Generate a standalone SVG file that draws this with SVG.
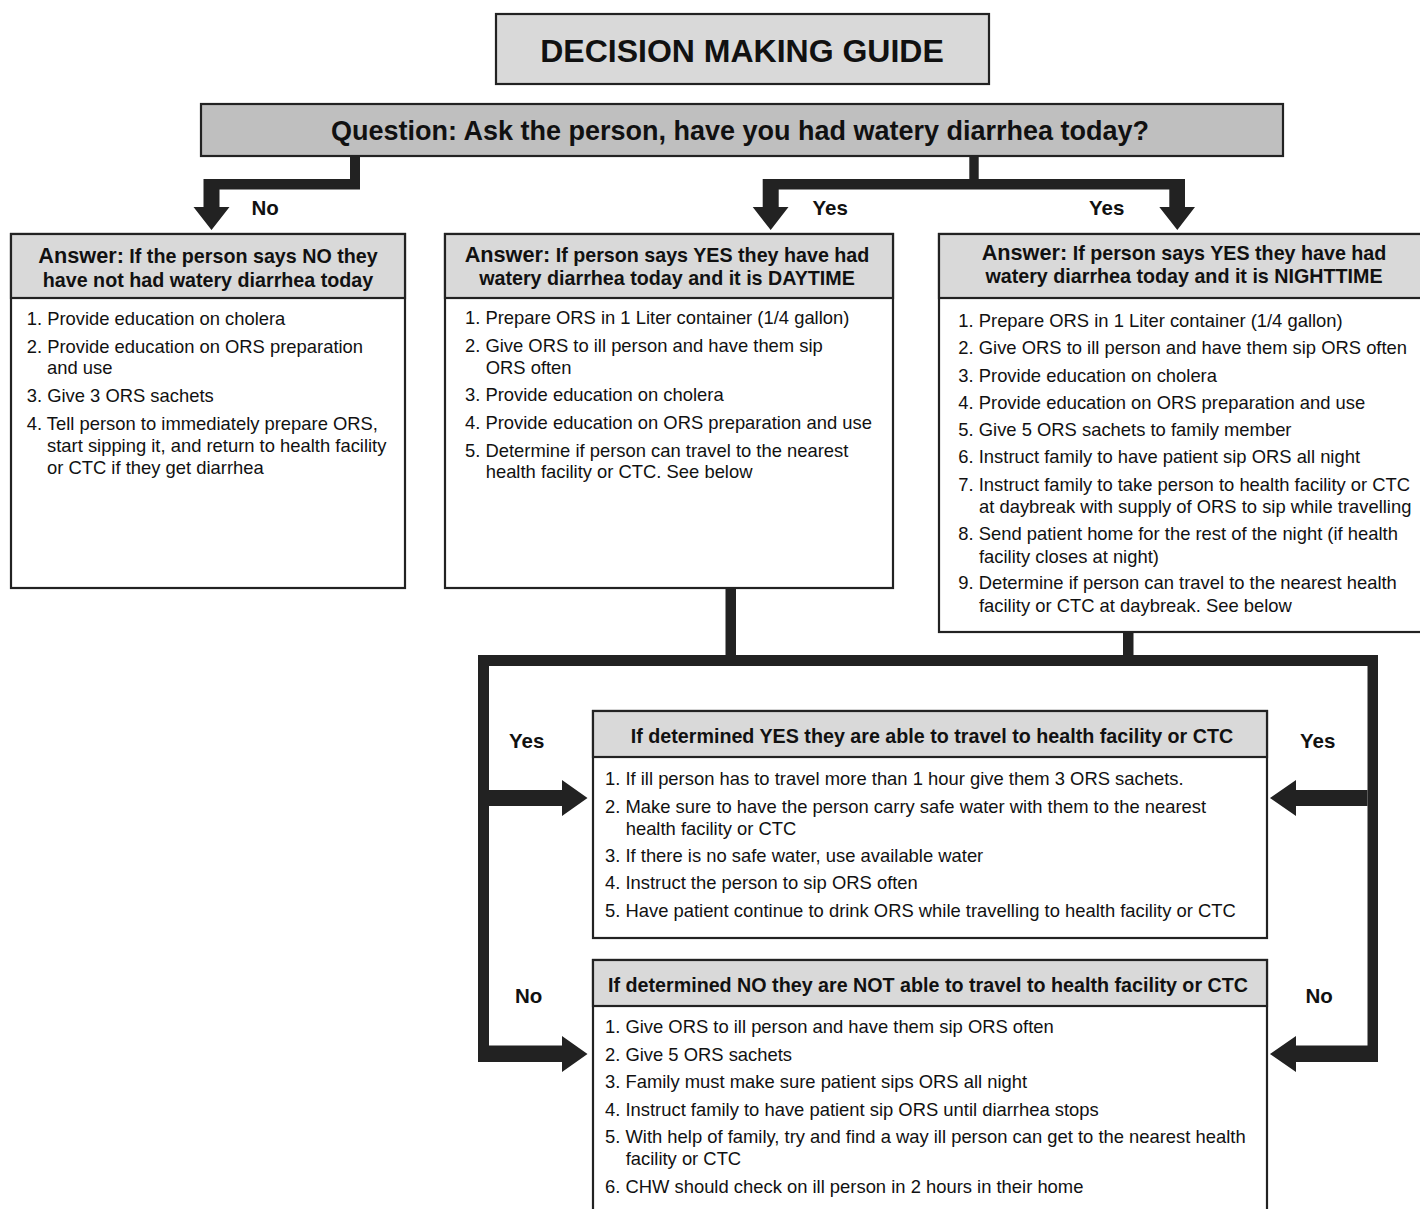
<svg xmlns="http://www.w3.org/2000/svg" width="1420" height="1209" viewBox="0 0 1420 1209">
<style>
text{font-family:"Liberation Sans",Arial,Helvetica,sans-serif;fill:#111}
.box{fill:#fff;stroke:#222;stroke-width:2.2}
.hdr{fill:#d9d9d9;stroke:#222;stroke-width:2.2}
.title{font-size:32px;font-weight:bold;text-anchor:middle}
.q{font-size:27px;font-weight:bold;text-anchor:middle}
.h{font-size:19.7px;font-weight:bold;text-anchor:middle}
.ans{font-size:21.7px}
.b{font-size:18.4px}
.lbl{font-size:20.5px;font-weight:bold}
.con{fill:#222}
</style>

<g id="title">
<rect x="496" y="14" width="493" height="70" fill="#d9d9d9" stroke="#222" stroke-width="2.2"/>
<text class="title" x="742" y="62">DECISION MAKING GUIDE</text>
</g>

<g id="question">
<rect x="201" y="104" width="1082" height="52" fill="#bfbfbf" stroke="#222" stroke-width="2.2"/>
<text class="q" x="740" y="139.5">Question: Ask the person, have you had watery diarrhea today?</text>
</g>

<g id="connectors">
<!-- No branch -->
<path class="con" d="M350,156 H360 V189.5 H219.5 V207 H229.5 L211.5,230 L193.5,207 H203.5 V179 H350 Z"/>
<!-- Yes branches -->
<path class="con" d="M969.3,156 H978.7 V179 H1185 V207 H1195 L1177.3,230 L1159.3,207 H1169.3 V189.5 H778.7 V207 H788.5 L770.7,230 L752.7,207 H762.7 V179 H969.3 Z"/>
<!-- stems from day / night boxes -->
<rect class="con" x="725.5" y="588" width="10.5" height="72"/>
<rect class="con" x="1123" y="632" width="10.5" height="28"/>
<!-- loop frame -->
<rect class="con" x="478" y="655" width="900" height="11"/>
<path class="con" d="M478,655 H489 V1045.5 H562 V1036 L587.5,1054 L562,1072 V1062 H478 Z"/>
<path class="con" d="M1367.5,655 H1378 V1062 H1296 V1072 L1270,1054 L1296,1036 V1045.5 H1367.5 Z"/>
<path class="con" d="M489,790 H562 V780 L587.5,798 L562,816 V806 H489 Z"/>
<path class="con" d="M1367.5,790 H1296 V780 L1270,798 L1296,816 V806 H1367.5 Z"/>
</g>

<g id="labels">
<text class="lbl" x="251.5" y="215">No</text>
<text class="lbl" x="812.5" y="215">Yes</text>
<text class="lbl" x="1089" y="215">Yes</text>
<text class="lbl" x="509" y="748">Yes</text>
<text class="lbl" x="1300" y="748">Yes</text>
<text class="lbl" x="515" y="1003">No</text>
<text class="lbl" x="1305.5" y="1003">No</text>
</g>

<g id="answer-no">
<rect class="box" x="11" y="234" width="394" height="354"/>
<rect class="hdr" x="11" y="234" width="394" height="64"/>
<text class="h" x="208" y="263.3"><tspan class="ans">Answer:</tspan> If the person says NO they</text>
<text class="h" x="208" y="286.7">have not had watery diarrhea today</text>
<text class="b" x="26.7" y="325">1. Provide education on cholera</text>
<text class="b" x="26.7" y="352.7">2. Provide education on ORS preparation</text>
<text class="b" x="47" y="374">and use</text>
<text class="b" x="26.7" y="401.7">3. Give 3 ORS sachets</text>
<text class="b" x="26.7" y="430">4. Tell person to immediately prepare ORS,</text>
<text class="b" x="47" y="451.7">start sipping it, and return to health facility</text>
<text class="b" x="47" y="474">or CTC if they get diarrhea</text>
</g>

<g id="answer-day">
<rect class="box" x="445" y="234" width="448" height="354"/>
<rect class="hdr" x="445" y="234" width="448" height="64"/>
<text class="h" x="667" y="261.7"><tspan class="ans">Answer:</tspan> If person says YES they have had</text>
<text class="h" x="667" y="285">watery diarrhea today and it is DAYTIME</text>
<text class="b" x="465" y="324">1. Prepare ORS in 1 Liter container (1/4 gallon)</text>
<text class="b" x="465" y="351.7">2. Give ORS to ill person and have them sip</text>
<text class="b" x="485.7" y="374">ORS often</text>
<text class="b" x="465" y="400.7">3. Provide education on cholera</text>
<text class="b" x="465" y="429">4. Provide education on ORS preparation and use</text>
<text class="b" x="465" y="456.7">5. Determine if person can travel to the nearest</text>
<text class="b" x="485.7" y="478.3">health facility or CTC. See below</text>
</g>

<g id="answer-night">
<rect class="box" x="939" y="234" width="491" height="398"/>
<rect class="hdr" x="939" y="234" width="491" height="64"/>
<text class="h" x="1184" y="260"><tspan class="ans">Answer:</tspan> If person says YES they have had</text>
<text class="h" x="1184" y="283.3">watery diarrhea today and it is NIGHTTIME</text>
<text class="b" x="958.3" y="326.7">1. Prepare ORS in 1 Liter container (1/4 gallon)</text>
<text class="b" x="958.3" y="354">2. Give ORS to ill person and have them sip ORS often</text>
<text class="b" x="958.3" y="381.7">3. Provide education on cholera</text>
<text class="b" x="958.3" y="409">4. Provide education on ORS preparation and use</text>
<text class="b" x="958.3" y="436">5. Give 5 ORS sachets to family member</text>
<text class="b" x="958.3" y="463.3">6. Instruct family to have patient sip ORS all night</text>
<text class="b" x="958.3" y="490.7">7. Instruct family to take person to health facility or CTC</text>
<text class="b" x="979" y="512.7">at daybreak with supply of ORS to sip while travelling</text>
<text class="b" x="958.3" y="540">8. Send patient home for the rest of the night (if health</text>
<text class="b" x="979" y="562.7">facility closes at night)</text>
<text class="b" x="958.3" y="589.3">9. Determine if person can travel to the nearest health</text>
<text class="b" x="979" y="611.7">facility or CTC at daybreak. See below</text>
</g>

<g id="travel-yes">
<rect class="box" x="593" y="711" width="674" height="227"/>
<rect class="hdr" x="593" y="711" width="674" height="46"/>
<text class="h" x="932" y="743">If determined YES they are able to travel to health facility or CTC</text>
<text class="b" x="605" y="785">1. If ill person has to travel more than 1 hour give them 3 ORS sachets.</text>
<text class="b" x="605" y="812.7">2. Make sure to have the person carry safe water with them to the nearest</text>
<text class="b" x="625.7" y="835">health facility or CTC</text>
<text class="b" x="605" y="861.7">3. If there is no safe water, use available water</text>
<text class="b" x="605" y="889.3">4. Instruct the person to sip ORS often</text>
<text class="b" x="605" y="916.7">5. Have patient continue to drink ORS while travelling to health facility or CTC</text>
</g>

<g id="travel-no">
<rect class="box" x="593" y="960" width="674" height="262"/>
<rect class="hdr" x="593" y="960" width="674" height="46"/>
<text class="h" x="928" y="991.7">If determined NO they are NOT able to travel to health facility or CTC</text>
<text class="b" x="605" y="1033.3">1. Give ORS to ill person and have them sip ORS often</text>
<text class="b" x="605" y="1060.7">2. Give 5 ORS sachets</text>
<text class="b" x="605" y="1088.3">3. Family must make sure patient sips ORS all night</text>
<text class="b" x="605" y="1115.7">4. Instruct family to have patient sip ORS until diarrhea stops</text>
<text class="b" x="605" y="1142.7">5. With help of family, try and find a way ill person can get to the nearest health</text>
<text class="b" x="625.7" y="1165.3">facility or CTC</text>
<text class="b" x="605" y="1192.7">6. CHW should check on ill person in 2 hours in their home</text>
</g>
</svg>
